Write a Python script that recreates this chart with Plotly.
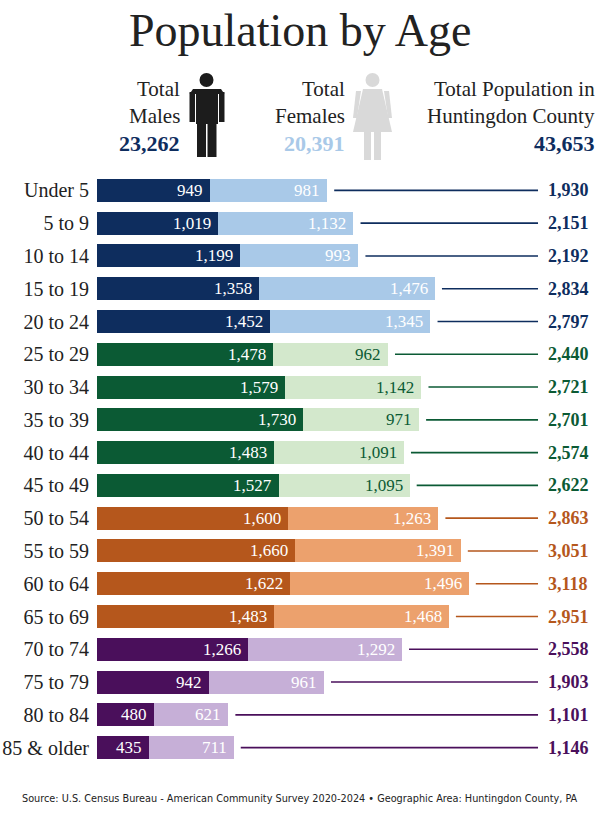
import plotly.graph_objects as go

ages = ["Under 5", "5 to 9", "10 to 14", "15 to 19", "20 to 24", "25 to 29", "30 to 34",
        "35 to 39", "40 to 44", "45 to 49", "50 to 54", "55 to 59", "60 to 64", "65 to 69",
        "70 to 74", "75 to 79", "80 to 84", "85 & older"]
males = [949, 1019, 1199, 1358, 1452, 1478, 1579, 1730, 1483, 1527, 1600, 1660, 1622, 1483,
         1266, 942, 480, 435]
females = [981, 1132, 993, 1476, 1345, 962, 1142, 971, 1091, 1095, 1263, 1391, 1496, 1468,
           1292, 961, 621, 711]
group = [0]*5 + [1]*5 + [2]*4 + [3]*4

total_males = "23,262"
total_females = "20,391"
total_pop = "43,653"

dark = ["#0e2d5e", "#0b5a34", "#b5571c", "#4a0f5b"]
light = ["#a9c9e8", "#d3e8cc", "#eca16d", "#c6afd7"]
female_text = ["#ffffff", "#0b5a34", "#ffffff", "#ffffff"]

totals = [m + f for m, f in zip(males, females)]

W, H = 600, 818
ML, MR, MT, MB = 97, 0, 174, 54
PW, PH = W - ML - MR, H - MT - MB
XMAX = 4220
SERIF = "Liberation Serif"

def px(x):
    return (x - ML) / PW

def py(y):
    return 1 - (y - MT) / PH

fig = go.Figure()
fig.add_trace(go.Bar(
    y=ages, x=males, orientation="h", width=0.7,
    marker=dict(color=[dark[g] for g in group], line_width=0), hoverinfo="skip"))
fig.add_trace(go.Bar(
    y=ages, x=females, orientation="h", width=0.7,
    marker=dict(color=[light[g] for g in group], line_width=0), hoverinfo="skip"))

LINE_END = 3700
GAP = 60
for a, m, f, t, g in zip(ages, males, females, totals, group):
    fig.add_annotation(x=m, y=a, xref="x", yref="y", text=f"{m:,}", showarrow=False,
                       xanchor="right", xshift=-5,
                       font=dict(family=SERIF, size=17, color="#ffffff"))
    fig.add_annotation(x=t, y=a, xref="x", yref="y", text=f"{f:,}", showarrow=False,
                       xanchor="right", xshift=-5,
                       font=dict(family=SERIF, size=17, color=female_text[g]))
    fig.add_shape(type="line", xref="x", yref="y", x0=t + GAP, x1=LINE_END, y0=a, y1=a,
                  line=dict(color=dark[g], width=1.6))
    fig.add_annotation(x=LINE_END + 70, y=a, xref="x", yref="y", text=f"<b>{t:,}</b>",
                       showarrow=False, xanchor="left",
                       font=dict(family=SERIF, size=18, color=dark[g]))

def add_text(xpix, ypix, text, size, color, xa="right"):
    fig.add_annotation(x=px(xpix), y=py(ypix), xref="paper", yref="paper", text=text,
                       showarrow=False, xanchor=xa, yanchor="middle",
                       font=dict(family=SERIF, size=size, color=color))

fig.add_annotation(x=px(300), y=py(30), xref="paper", yref="paper",
                   text="Population by Age", showarrow=False, xanchor="center", yanchor="middle",
                   font=dict(family=SERIF, size=46, color="#222222"))
add_text(182, 89, "Total", 21, "#222222")
add_text(182, 116, "Males", 21, "#222222")
add_text(182, 144, f"<b>{total_males}</b>", 22, "#0e2d5e")
add_text(347, 89, "Total", 21, "#222222")
add_text(347, 116, "Females", 21, "#222222")
add_text(347, 144, f"<b>{total_females}</b>", 22, "#a9c9e8")
add_text(597, 89, "Total Population in", 21, "#222222")
add_text(597, 116, "Huntingdon County", 21, "#222222")
add_text(597, 144, f"<b>{total_pop}</b>", 22, "#0e2d5e")

fig.add_annotation(x=px(300), y=py(798), xref="paper", yref="paper",
                   text="Source: U.S. Census Bureau - American Community Survey 2020-2024 • Geographic Area: Huntingdon County, PA",
                   showarrow=False, xanchor="center", yanchor="middle",
                   font=dict(family="DejaVu Sans Condensed, Liberation Sans Narrow, Liberation Sans",
                             size=10.8, color="#222222"))

# icons
def rect(x0, y0, x1, y1, color):
    fig.add_shape(type="rect", xref="paper", yref="paper", x0=px(x0), x1=px(x1),
                  y0=py(y1), y1=py(y0), fillcolor=color, line_width=0, layer="above")

def circle(cx, cy, r, color):
    fig.add_shape(type="circle", xref="paper", yref="paper", x0=px(cx - r), x1=px(cx + r),
                  y0=py(cy + r), y1=py(cy - r), fillcolor=color, line_width=0)

def path(points, color):
    d = "M " + " L ".join(f"{px(x):.5f},{py(y):.5f}" for x, y in points) + " Z"
    fig.add_shape(type="path", xref="paper", yref="paper", path=d, fillcolor=color, line_width=0)

MAN = "#1c1c1c"
circle(206.5, 80, 7, MAN)
rect(196, 89, 218, 124, MAN)       # torso
rect(189.5, 92, 195, 122, MAN)     # left arm
rect(219, 92, 224.5, 122, MAN)     # right arm
path([(193, 89), (196, 89), (196, 94), (189.5, 94)], MAN)
path([(218, 89), (221, 89), (224.5, 94), (218, 94)], MAN)
rect(197, 123, 206, 157, MAN)      # legs
rect(207.5, 123, 216.5, 157, MAN)

WOM = "#d9d9d9"
circle(372.5, 80, 7, WOM)
path([(363, 89), (382, 89), (392, 132), (353, 132)], WOM)  # dress
path([(361, 91), (356, 91), (353, 118), (357, 118)], WOM)
path([(384, 91), (389, 91), (392, 118), (388, 118)], WOM)
rect(364, 131, 371, 160, WOM)
rect(374, 131, 381, 160, WOM)

fig.update_layout(
    width=W, height=H, barmode="stack", bargap=0.3, showlegend=False,
    margin=dict(l=ML, r=MR, t=MT, b=MB, autoexpand=False),
    paper_bgcolor="#ffffff", plot_bgcolor="#ffffff",
    xaxis=dict(range=[0, XMAX], visible=False, fixedrange=True),
    yaxis=dict(categoryorder="array", categoryarray=ages, autorange="reversed",
               showgrid=False, zeroline=False, showline=False, ticks="",
               tickfont=dict(family=SERIF, size=20, color="#222222"),
               ticklabelstandoff=7, fixedrange=True),
)

fig.write_html("out.html", config={"displayModeBar": False},
               post_script="document.body.style.margin='0';document.body.style.overflow='hidden';")
